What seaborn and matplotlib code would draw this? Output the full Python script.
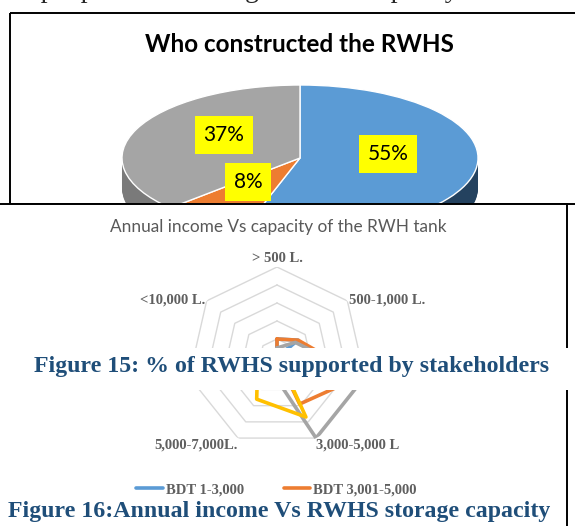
import numpy as np
import pandas as pd
import matplotlib
matplotlib.use("Agg")
import matplotlib.pyplot as plt
from matplotlib.patches import Rectangle
from matplotlib.lines import Line2D
import seaborn as sns

# --- data ---------------------------------------------------------------
pie_names = ["Blue", "Orange", "Gray"]
pie_values = [55, 8, 37]
pie_labels = ["55%", "8%", "37%"]

radar_cats = ["> 500 L.", "500-1,000 L.", "1,000-3,000 L.", "3,000-5,000 L",
              "5,000-7,000L.", "7,000-10,000 L.", "<10,000 L."]
income_groups = ["BDT 1-3,000", "BDT 3,001-5,000", "BDT 5,001-7,000", "BDT >7,000"]
bdt_1_3000 = [10, 15, 0, 2, 2, 2, 0]
bdt_3001_5000 = [10, 15, 48, 29, 0, 3, 0]
bdt_5001_7000 = [5, 13, 50, 50, 8, 3, 2]
bdt_above_7000 = [3, 3, 1, 37, 26, 11, 3]
radar_rings = [10, 20, 30, 40, 50]

body_text = "the people in the storage and the capacity"
pie_title = "Who constructed the RWHS"
radar_title = "Annual income Vs capacity of the RWH tank"
caption15 = "Figure 15: % of RWHS supported by stakeholders"
caption16 = "Figure 16:Annual income Vs RWHS storage capacity"

# --- styling -------------------------------------------------------------
sns.set_theme(style="white")
plt.rcParams["font.family"] = ["Lato", "DejaVu Sans"]

W, H = 575, 526
fig = plt.figure(figsize=(W / 100, H / 100), dpi=100)


def box(x0, y0, x1, y1):
    return [x0 / W, 1 - y1 / H, (x1 - x0) / W, (y1 - y0) / H]


pie_colors = ["#5b9bd5", "#ed7d31", "#a5a5a5"]
side_colors = ["#24425f", "#9c4f1c", "#7a7a7a"]
series_colors = ["#5b9bd5", "#ed7d31", "#a5a5a5", "#ffc000"]
serif = "Liberation Serif"
cap_blue = "#1f4e79"
label_gray = "#5f5f5f"

# background layer: clipped body text, pie chart frame and title
bg = fig.add_axes([0, 0, 1, 1], zorder=0)
bg.set_xlim(0, W)
bg.set_ylim(H, 0)
bg.axis("off")
bg.text(0, -3, body_text, family=serif, fontsize=20, va="baseline", ha="left")
bg.add_patch(Rectangle((10, 13), 620, 191, fill=False, ec="black", lw=1.4))
bg.text(299, 45, pie_title, fontsize=17.5, weight="bold", ha="center", va="center",
        color="black")

# 3D-looking pie
cx, cy, rx, ry, depth = 300, 158, 178, 73, 30
pax = fig.add_axes(box(cx - rx, cy - ry, cx + rx, cy + ry + depth), zorder=1)
d = depth / ry
for k in np.linspace(d, 0, 30)[:-1]:
    pax.pie(pie_values, colors=side_colors, startangle=90, counterclock=False,
            center=(0, -k), wedgeprops=dict(linewidth=0))
wedges, _ = pax.pie(pie_values, colors=pie_colors, startangle=90, counterclock=False,
                    wedgeprops=dict(edgecolor="white", linewidth=1))
pax.set_aspect("auto")
pax.set_xlim(-1, 1)
pax.set_ylim(-1 - d, 1)
pax.axis("off")
label_frac = [0.5, 0.545, 0.465]
lift = 0.13
for w, lab, f in zip(wedges, pie_labels, label_frac):
    ang = np.deg2rad((w.theta1 + w.theta2) / 2)
    pax.text(f * np.cos(ang), f * np.sin(ang) + lift, lab, ha="center", va="center",
             fontsize=15, color="black",
             bbox=dict(boxstyle="square,pad=0.42", fc="#ffff00", ec="none"))

# radar chart frame
mid = fig.add_axes([0, 0, 1, 1], zorder=2)
mid.set_xlim(0, W)
mid.set_ylim(H, 0)
mid.axis("off")
mid.add_patch(Rectangle((-5, 204), 572, 400, fc="white", ec="black", lw=1.4))
mid.text(278, 227, radar_title, fontsize=12.4, color="#595959", ha="center", va="center")

# legend (two per row), second row sits under the caption
handles = [Line2D([], [], color=c, lw=2.6) for c in series_colors]
order = [0, 2, 1, 3]
mid.legend([handles[i] for i in order], [income_groups[i] for i in order], ncol=2,
           loc="upper left", bbox_to_anchor=(123 / W, 1 - 470 / H),
           bbox_transform=fig.transFigure, frameon=False,
           prop=dict(family=serif, size=10.5, weight="bold"), labelcolor=label_gray,
           handlelength=1.85, handletextpad=0.2, columnspacing=0.95, labelspacing=0.6)

# radar
rcx, rcy, rr = 277, 357, 90
rax = fig.add_axes(box(rcx - rr, rcy - rr, rcx + rr, rcy + rr), projection="polar", zorder=3)
rax.patch.set_alpha(0)
rax.set_theta_offset(np.pi / 2)
rax.set_theta_direction(-1)
n = len(radar_cats)
theta = np.linspace(0, 2 * np.pi, n, endpoint=False)
theta_c = np.append(theta, 2 * np.pi)
for lvl in radar_rings:
    rax.plot(theta_c, [lvl] * (n + 1), color="#d9d9d9", lw=1)

series = [bdt_1_3000, bdt_3001_5000, bdt_5001_7000, bdt_above_7000]
rows = []
for name, vals in zip(income_groups, series):
    for t, v in zip(theta_c, vals + vals[:1]):
        rows.append({"group": name, "theta": t, "value": v})
df = pd.DataFrame(rows)
for name, col in zip(income_groups, series_colors):
    sns.lineplot(data=df[df["group"] == name], x="theta", y="value", ax=rax,
                 sort=False, color=col, lw=2.6, legend=False)

rmax = radar_rings[-1]
rax.set_ylim(0, rmax)
rax.grid(False)
rax.spines["polar"].set_visible(False)
rax.set_xticks([])
rax.set_yticks([])
rax.set_xlabel("")
rax.set_ylabel("")
lab_kw = dict(family=serif, fontsize=10.5, weight="bold", color=label_gray)
placements = [("center", "center", 1.1), ("left", "center", 1.02), ("left", "center", 1.04),
              ("left", "top", 1.0), ("right", "top", 1.0), ("right", "center", 1.04),
              ("right", "center", 1.02)]
for t, cat, (ha, va, f) in zip(theta, radar_cats, placements):
    rax.text(t, rmax * f, cat, ha=ha, va=va, **lab_kw)

# captions overlaid
top = fig.add_axes([0, 0, 1, 1], zorder=5)
top.set_xlim(0, W)
top.set_ylim(H, 0)
top.axis("off")
top.add_patch(Rectangle((0, 348), 600, 42, fc="white", ec="none"))
top.text(292, 372, caption15, family=serif, fontsize=17.2, weight="bold", color=cap_blue,
         ha="center", va="baseline")
top.add_patch(Rectangle((0, 497), 562, 40, fc="white", ec="none"))
top.text(279, 517, caption16, family=serif, fontsize=17.2, weight="bold", color=cap_blue,
         ha="center", va="baseline")

fig.savefig("out.png", dpi=100)
